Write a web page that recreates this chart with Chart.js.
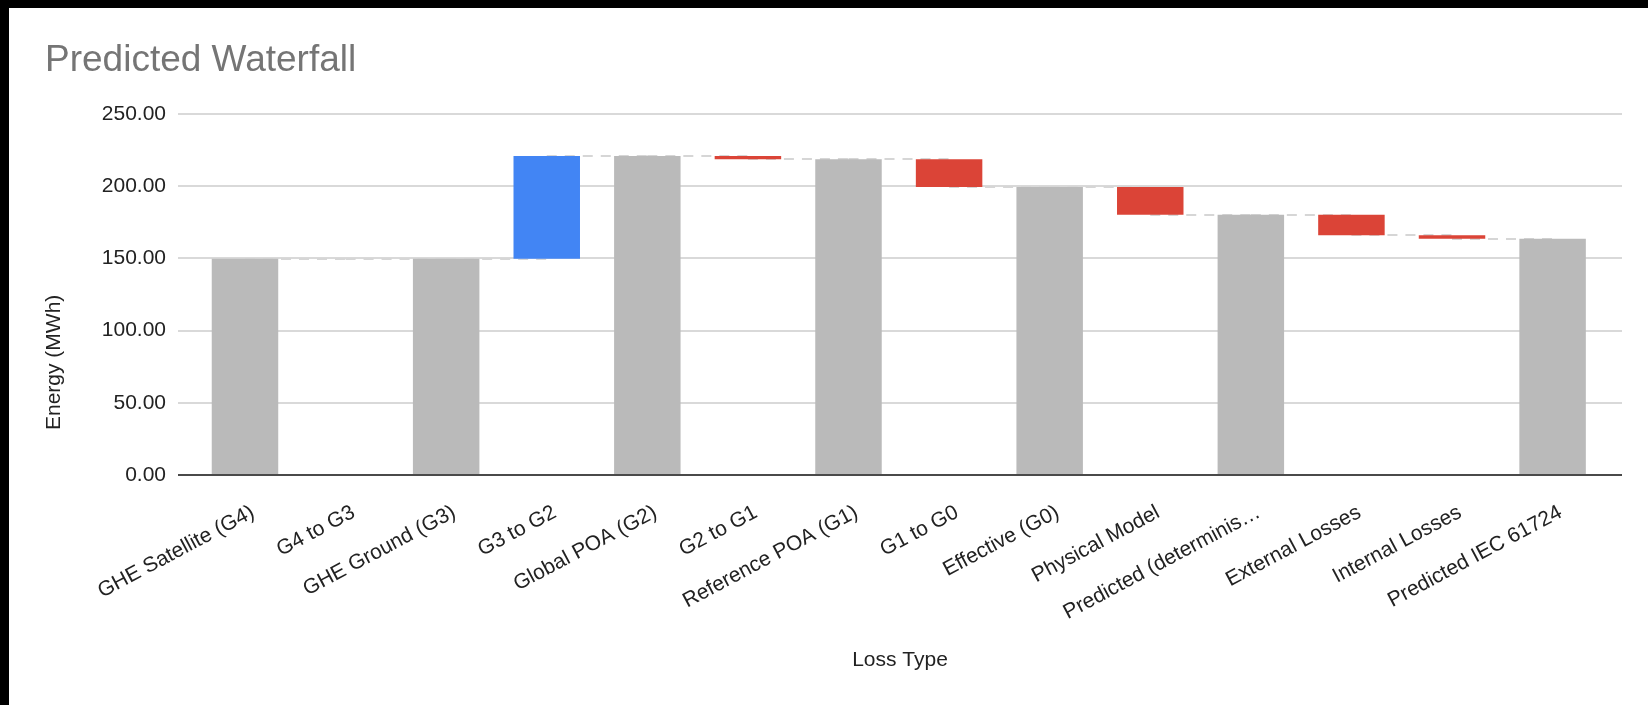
<!DOCTYPE html>
<html>
<head>
<meta charset="utf-8">
<title>Predicted Waterfall</title>
<script src="https://cdn.jsdelivr.net/npm/chart.js@4.4.1/dist/chart.umd.min.js"></script>
<style>
  html, body { margin: 0; padding: 0; background: #000; }
  #frame { position: absolute; left: 9px; top: 8px; width: 1639px; height: 697px; background: #fff; overflow: hidden; }
  #title { position: absolute; left: 36px; top: 32px; font: 37px/37px "Liberation Sans", Arial, sans-serif; color: #757575; white-space: nowrap; }
  canvas { position: absolute; left: 0; top: 0; }
</style>
</head>
<body>
<div id="frame">
  <canvas id="chart" width="1639" height="697"></canvas>
  <div id="title">Predicted Waterfall</div>
</div>
<script>
// Loss steps, in order along the x axis
const categories = [
  'GHE Satellite (G4)', 'G4 to G3', 'GHE Ground (G3)', 'G3 to G2', 'Global POA (G2)',
  'G2 to G1', 'Reference POA (G1)', 'G1 to G0', 'Effective (G0)', 'Physical Model',
  'Predicted (determinis\u2026', 'External Losses', 'Internal Losses', 'Predicted IEC 61724'
];
// 'total' bars stand on zero, 'step' bars float between the previous level and the new one
const barKinds = [
  'total', 'step', 'total', 'step', 'total',
  'step', 'total', 'step', 'total', 'step',
  'total', 'step', 'step', 'total'
];
// Energy level (MWh) reached after each step
const levels = [
  149.8, 149.8, 149.8, 221.0, 221.0,
  218.7, 218.7, 199.5, 199.5, 180.2,
  180.2, 166.1, 163.6, 163.6
];
const yTicks = [0, 50, 100, 150, 200, 250];
const xAxisTitle = 'Loss Type';
const yAxisTitle = 'Energy (MWh)';

const COLOR_TOTAL = '#bababa';
const COLOR_UP = '#4285f4';
const COLOR_DOWN = '#db4437';
const FONT = '"Liberation Sans", Arial, sans-serif';

const floating = levels.map((v, i) => {
  const from = barKinds[i] === 'total' ? 0 : levels[i - 1];
  return { x: i, y: [from, v] };
});
const barColors = levels.map((v, i) => {
  if (barKinds[i] === 'total') return COLOR_TOTAL;
  return v >= levels[i - 1] ? COLOR_UP : COLOR_DOWN;
});

// dashed connectors carrying each level over to the next bar
const connectors = {
  id: 'connectors',
  beforeDatasetsDraw(chart) {
    const meta = chart.getDatasetMeta(0);
    const y = chart.scales.y;
    const ctx = chart.ctx;
    ctx.save();
    ctx.setLineDash([10, 8]);
    ctx.strokeStyle = '#d6d6d6';
    ctx.lineWidth = 2;
    for (let i = 0; i < levels.length - 1; i++) {
      const a = meta.data[i], b = meta.data[i + 1];
      const py = Math.round(y.getPixelForValue(levels[i]));
      ctx.beginPath();
      ctx.moveTo(a.x, py);
      ctx.lineTo(b.x, py);
      ctx.stroke();
    }
    ctx.restore();
  }
};

// vertical axis title, set lower than the plot's middle and away from the tick labels
const yTitle = {
  id: 'yTitle',
  afterDraw(chart) {
    const ctx = chart.ctx;
    ctx.save();
    ctx.translate(45.5, 422);
    ctx.rotate(-Math.PI / 2);
    ctx.font = '21px ' + FONT;
    ctx.fillStyle = '#222';
    ctx.textAlign = 'left';
    ctx.textBaseline = 'middle';
    ctx.fillText(yAxisTitle, 0, 0);
    ctx.restore();
  }
};

new Chart(document.getElementById('chart'), {
  type: 'bar',
  data: {
    datasets: [{
      data: floating,
      backgroundColor: barColors,
      borderWidth: 0,
      barPercentage: 0.661,
      categoryPercentage: 1
    }]
  },
  options: {
    responsive: false,
    animation: false,
    devicePixelRatio: 1,
    layout: { padding: { top: 106, right: 26, left: 0, bottom: 0 } },
    plugins: { legend: { display: false }, tooltip: { enabled: false }, title: { display: false } },
    scales: {
      x: {
        type: 'linear',
        offset: false,
        min: -0.666,
        max: 13.69,
        afterBuildTicks(scale) { scale.ticks = categories.map((_, i) => ({ value: i })); },
        afterFit(scale) { scale.height = 230; },
        grid: { display: false },
        border: { display: false },
        ticks: {
          autoSkip: false,
          minRotation: 28,
          maxRotation: 28,
          padding: 17,
          labelOffset: 8,
          color: '#222',
          font: { family: FONT, size: 21 },
          callback: (v) => categories[v]
        },
        title: {
          display: true,
          text: xAxisTitle,
          color: '#222',
          font: { family: FONT, size: 21 },
          padding: { top: 0, bottom: 32 }
        }
      },
      y: {
        min: 0,
        max: 250,
        afterBuildTicks(scale) { scale.ticks = yTicks.map(v => ({ value: v })); },
        afterFit(scale) { scale.width = 169; },
        border: { display: false },
        grid: {
          drawTicks: false,
          lineWidth: 2,
          color: (c) => (c.tick && c.tick.value === 0 ? '#4a4a4a' : '#d9d9d9')
        },
        ticks: {
          padding: 12,
          color: '#222',
          font: { family: FONT, size: 21 },
          callback: (v) => Number(v).toFixed(2)
        },
        title: { display: false }
      }
    }
  },
  plugins: [connectors, yTitle]
});
</script>
</body>
</html>
